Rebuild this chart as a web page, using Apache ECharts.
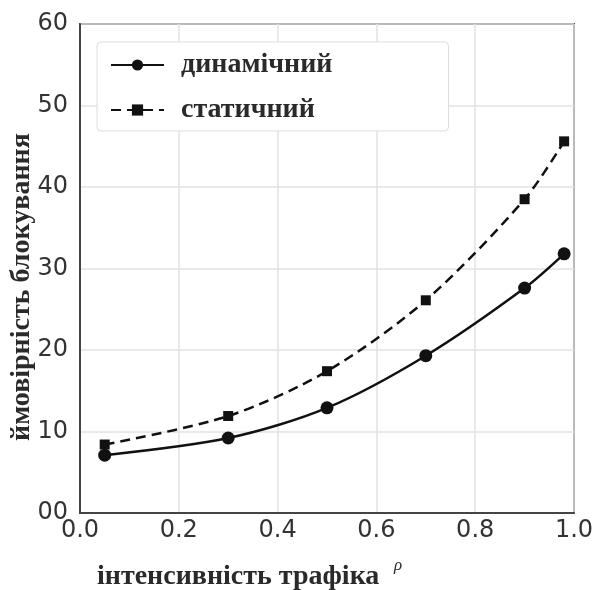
<!DOCTYPE html>
<html>
<head>
<meta charset="utf-8">
<script src="https://cdn.jsdelivr.net/npm/echarts@6/dist/echarts.min.js"></script>
<style>
html,body{margin:0;padding:0;background:#fff;}
#chart{width:597px;height:590px;}
</style>
</head>
<body>
<div id="chart"></div>
<script>
const rho = [0.05, 0.3, 0.5, 0.7, 0.9, 0.98];
const dynamicVals = [7.1, 9.2, 12.9, 19.3, 27.6, 31.8];
const staticVals = [8.4, 11.9, 17.4, 26.1, 38.5, 45.6];
const seriesNames = ['динамічний', 'статичний'];
const xTitle = 'інтенсивність трафіка';
const yTitle = 'ймовірність блокування';

const chart = echarts.init(document.getElementById('chart'));
const serif = '"Liberation Serif", "DejaVu Serif", serif';
const sans = '"DejaVu Sans", sans-serif';

chart.setOption({
  animation: false,
  backgroundColor: '#fff',
  grid: {left: 80, right: 23, top: 24, bottom: 77, show: true, borderColor: '#444', borderWidth: 2},
  xAxis: {
    type: 'value', min: 0, max: 1, interval: 0.2,
    axisLine: {show: true, lineStyle: {color: '#444', width: 2}},
    axisTick: {show: false},
    splitLine: {show: true, lineStyle: {color: '#e2e2e2', width: 1.5}},
    axisLabel: {color: '#333', fontSize: 24, fontFamily: sans, margin: 6,
      formatter: v => v.toFixed(1)}
  },
  yAxis: {
    type: 'value', min: 0, max: 60, interval: 10,
    axisLine: {show: true, lineStyle: {color: '#444', width: 2}},
    axisTick: {show: false},
    splitLine: {show: true, lineStyle: {color: '#e2e2e2', width: 1.5}},
    axisLabel: {color: '#333', fontSize: 24, fontFamily: sans, margin: 12,
      formatter: v => v === 0 ? '00' : String(v)}
  },
  legend: {
    left: 97, top: 42, orient: 'vertical',
    itemWidth: 53, itemHeight: 14, itemGap: 17,
    padding: [9, 116, 7, 13],
    backgroundColor: '#fff', borderColor: '#ddd', borderWidth: 1, borderRadius: 4,
    textStyle: {fontFamily: serif, fontSize: 28, fontWeight: 'bold', color: '#2a2a2a', padding: [0, 0, 0, 12]},
    data: seriesNames
  },
  series: [
    {
      name: seriesNames[0], type: 'line', smooth: 0.3,
      data: rho.map((x, i) => [x, dynamicVals[i]]),
      symbol: 'circle', symbolSize: 13,
      lineStyle: {color: '#111', width: 2.5, type: 'solid'},
      itemStyle: {color: '#111'}
    },
    {
      name: seriesNames[1], type: 'line', smooth: 0.3,
      data: rho.map((x, i) => [x, staticVals[i]]),
      symbol: 'rect', symbolSize: 10,
      lineStyle: {color: '#111', width: 2.5, type: [10, 6]},
      itemStyle: {color: '#111'}
    }
  ],
  graphic: [
    {type: 'text', left: 97, top: 563,
     style: {text: xTitle, font: 'bold 28px ' + serif, fill: '#2a2a2a'}},
    {type: 'text', left: 394, top: 557,
     style: {text: 'ρ', font: 'italic 17px ' + serif, fill: '#2a2a2a'}},
    {type: 'text', x: 8, y: 441, rotation: Math.PI / 2,
     style: {text: yTitle, font: 'bold 28px ' + serif, fill: '#2a2a2a', align: 'left', verticalAlign: 'top'}}
  ]
});
</script>
</body>
</html>
